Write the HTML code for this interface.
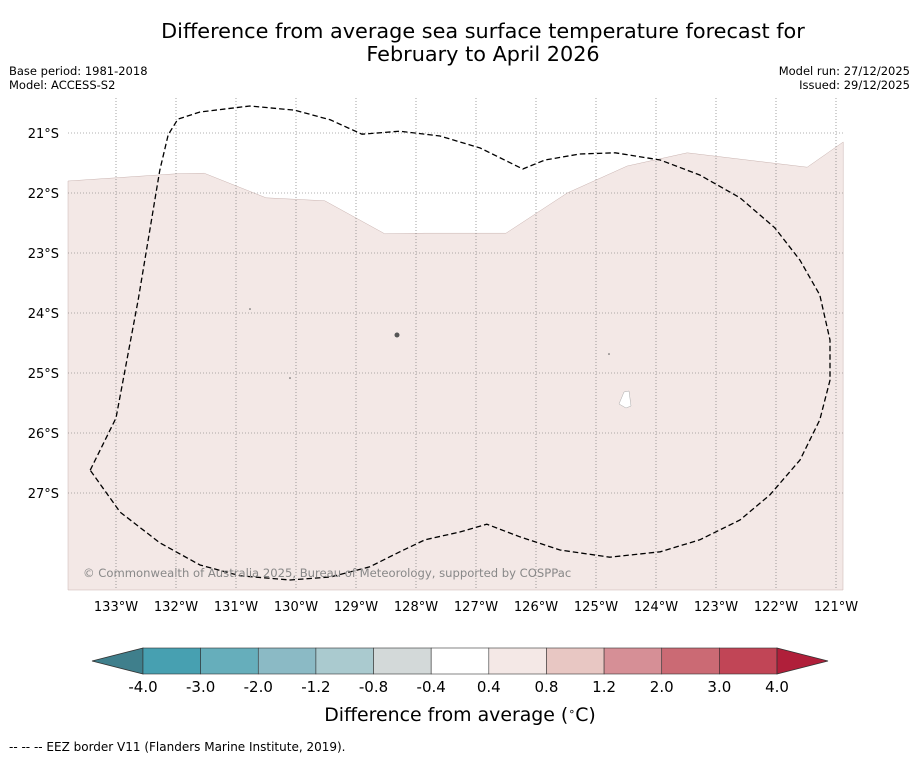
<!DOCTYPE html>
<html><head><meta charset="utf-8">
<style>
body{margin:0;background:#fff;font-family:"Liberation Sans","DejaVu Sans",sans-serif;}
svg text{font-family:"DejaVu Sans","Liberation Sans",sans-serif;}
</style></head>
<body>
<svg id="chart" width="919" height="758" viewBox="0 0 919 758" xmlns="http://www.w3.org/2000/svg">
<text x="483" y="38" font-size="20.8" text-anchor="middle">Difference from average sea surface temperature forecast for</text>
<text x="483" y="61" font-size="20.8" text-anchor="middle">February to April 2026</text>
<text x="9" y="75" font-size="11.5">Base period: 1981-2018</text>
<text x="9" y="89" font-size="11.5">Model: ACCESS-S2</text>
<text x="910" y="75" font-size="11.5" text-anchor="end">Model run: 27/12/2025</text>
<text x="910" y="89" font-size="11.5" text-anchor="end">Issued: 29/12/2025</text>
<g id="map"></g>
<g id="cbar"></g>
<text x="460" y="721" font-size="18.9" text-anchor="middle">Difference from average (<tspan baseline-shift="super" font-size="11">∘</tspan>C)</text>
<text x="9" y="751" font-size="12">--  --  -- EEZ border V11 (Flanders Marine Institute, 2019).</text>
</svg>
<script>
const lonTicks=[133,132,131,130,129,128,127,126,125,124,123,122,121];
const latTicks=[21,22,23,24,25,26,27];
const anomLon=[133.8,132.0,131.53,130.5,129.52,128.52,127.85,126.5,125.48,124.48,123.48,121.48,120.88];
const anomLat=[21.8,21.68,21.67,22.08,22.13,22.68,22.67,22.67,22.0,21.55,21.33,21.57,21.15];
const eezLon=[133.43,133.0,132.63,132.27,132.13,131.97,131.6,130.77,130.02,129.43,128.9,128.27,127.6,126.93,126.22,125.85,125.27,124.68,123.93,123.27,122.6,122.02,121.6,121.27,121.1,121.1,121.27,121.6,122.1,122.6,123.27,123.93,124.77,125.6,126.27,126.82,127.27,127.85,128.27,128.77,129.43,130.1,130.93,131.6,132.27,132.93,133.43];
const eezLat=[26.62,25.75,23.78,21.62,21.03,20.77,20.65,20.55,20.62,20.78,21.02,20.97,21.05,21.25,21.6,21.45,21.35,21.33,21.45,21.7,22.08,22.58,23.12,23.7,24.45,25.12,25.78,26.45,27.03,27.45,27.78,27.98,28.07,27.95,27.73,27.52,27.65,27.78,27.98,28.23,28.4,28.45,28.38,28.2,27.83,27.32,26.62];
const cbColors=["#3f7f8c","#47a0b1","#66aebb","#8bbac5","#aacacf","#d3d9d9","#ffffff","#f4e8e6","#e8c7c3","#d68f96","#cb6a74","#c14556","#b01f3a"];
const cbLabels=["-4.0","-3.0","-2.0","-1.2","-0.8","-0.4","0.4","0.8","1.2","2.0","3.0","4.0"];

const NS="http://www.w3.org/2000/svg";
const L=68,R=843,T=98,B=590;
const xs=lon=>116+(133-lon)*60;
const ys=lat=>133+(lat-21)*60;
function mk(tag,attrs,parent){const e=document.createElementNS(NS,tag);for(const k in attrs)e.setAttribute(k,attrs[k]);parent.appendChild(e);return e;}
const map=document.getElementById('map');
let d=`M${L},${B} `;
anomLon.forEach((lo,i)=>{d+=`L${xs(lo).toFixed(1)},${ys(anomLat[i]).toFixed(1)} `;});
d+=`L${R},${B} Z`;
const fill=mk('path',{d:d,fill:'#f3e8e6',stroke:'#c9b3b0','stroke-width':0.5},map);


const hole=mk('path',{d:'M624,392 L629,391 L631,406 L626,408 L619,404 Z',fill:'#fff',stroke:'#aaa','stroke-width':0.5},map);


[[397,335,2.5],[250,309,0.8],[290,378,0.8],[609,354,0.8]].forEach(p=>{
 const c=mk('circle',{cx:p[0],cy:p[1],r:p[2],fill:'#555'},map);
 
 
});
lonTicks.forEach(lo=>{
 const x=xs(lo);
 const g=mk('line',{x1:x,x2:x,y1:T,y2:B,stroke:'#666','stroke-width':0.6,'stroke-dasharray':'1,2'},map);
 
 
 const t=mk('text',{x:x,y:611,'font-size':13,'text-anchor':'middle'},map);t.textContent=lo+'°W';
 
 
});
latTicks.forEach(la=>{
 const y=ys(la);
 const g=mk('line',{x1:L,x2:R,y1:y,y2:y,stroke:'#666','stroke-width':0.6,'stroke-dasharray':'1,2'},map);
 
 
 const t=mk('text',{x:59,y:y+5,'font-size':13,'text-anchor':'end'},map);t.textContent=la+'°S';
 
 
});
let e='';
eezLon.forEach((lo,i)=>{e+=(i?'L':'M')+xs(lo).toFixed(1)+','+ys(eezLat[i]).toFixed(1)+' ';});
const eez=mk('path',{d:e,fill:'none',stroke:'#000','stroke-width':1.3,'stroke-dasharray':'5.5,3'},map);


const cp=mk('text',{x:83,y:577,'font-size':11.6,fill:'#888'},map);
cp.textContent='© Commonwealth of Australia 2025, Bureau of Meteorology, supported by COSPPac';


const cb=document.getElementById('cbar');
const x0=143,x1=777,y0=648,y1=674,n=cbLabels.length-1,w=(x1-x0)/n;
const lt=mk('path',{d:`M${x0},${y0} L92,661 L${x0},${y1} Z`,fill:cbColors[0],stroke:'#333','stroke-width':0.8},cb);


for(let i=0;i<n;i++){
 const r=mk('rect',{x:x0+i*w,y:y0,width:w,height:y1-y0,fill:cbColors[i+1],stroke:'#333','stroke-width':0.6},cb);
 
 
}
const rt=mk('path',{d:`M${x1},${y0} L828,661 L${x1},${y1} Z`,fill:cbColors[cbColors.length-1],stroke:'#333','stroke-width':0.8},cb);


cbLabels.forEach((s,i)=>{
 const t=mk('text',{x:x0+i*w,y:692,'font-size':15,'text-anchor':'middle'},cb);t.textContent=s;
 
 
});
</script>
</body></html>
